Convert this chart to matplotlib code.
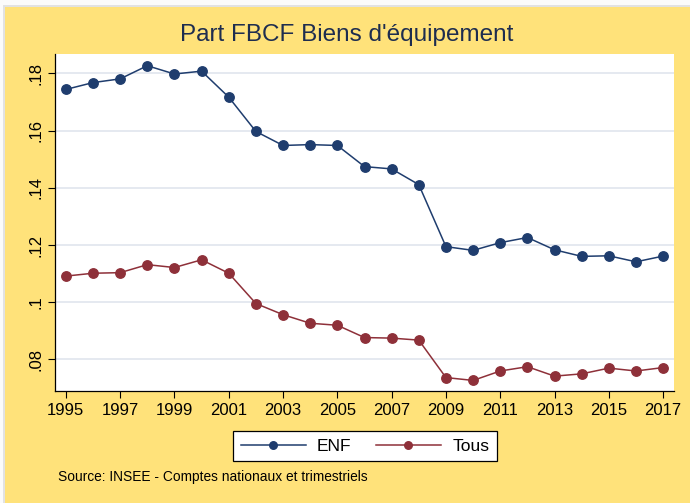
import matplotlib
matplotlib.use("Agg")
import matplotlib.pyplot as plt
from matplotlib.patches import Rectangle

years = list(range(1995, 2018))
enf = [0.1744, 0.1768, 0.1781, 0.1827, 0.1798, 0.1808, 0.1717, 0.1597, 0.1548, 0.1551,
       0.1548, 0.1474, 0.1466, 0.1411, 0.1194, 0.1181, 0.1208, 0.1226, 0.1183, 0.1160,
       0.1162, 0.1141, 0.1161]
tous = [0.1091, 0.1101, 0.1103, 0.1131, 0.1121, 0.1148, 0.1101, 0.0995, 0.0956, 0.0926,
        0.0919, 0.0876, 0.0874, 0.0867, 0.0736, 0.0726, 0.0759, 0.0774, 0.0741, 0.0749,
        0.0769, 0.0759, 0.0771]
yticks = [0.08, 0.10, 0.12, 0.14, 0.16, 0.18]
ytick_labels = [".08", ".1", ".12", ".14", ".16", ".18"]
xticks = list(range(1995, 2018, 2))
title = "Part FBCF Biens d'équipement"
source = "Source: INSEE - Comptes nationaux et trimestriels"

plt.rcParams['font.family'] = ['Liberation Sans', 'DejaVu Sans']

W, H = 690, 503
fig = plt.figure(figsize=(W / 100, H / 100), dpi=100, facecolor="#fbfbfb")
fig.patches.append(Rectangle((3 / W, 0), (W - 3) / W, (H - 5) / H,
                             transform=fig.transFigure, facecolor="#e2e2e2",
                             edgecolor="none", zorder=-11))
fig.patches.append(Rectangle((4.5 / W, 0), (W - 4.5) / W, (H - 6.5) / H,
                             transform=fig.transFigure, facecolor="#ffe27a",
                             edgecolor="none", zorder=-10))

left, right, top, bottom = 55, 674, 54, 391
ax = fig.add_axes([left / W, 1 - bottom / H, (right - left) / W, (bottom - top) / H])
ax.set_facecolor("white")

navy = "#1f3d6e"
maroon = "#8e3039"
ax.plot(years, enf, color=navy, lw=1.1, marker="o", ms=6.8, label="ENF", zorder=3)
ax.plot(years, tous, color=maroon, lw=1.1, marker="o", ms=6.8, label="Tous", zorder=3)

ax.set_xlim(1994.6, 2017.4)
ax.set_ylim(0.0689, 0.1868)
ax.set_yticks(yticks)
ax.set_yticklabels(ytick_labels, rotation=90, va="center")
ax.set_xticks(xticks)
ax.grid(axis="y", color="#e3e7ef", lw=1.3)
ax.set_axisbelow(True)
for s in ["top", "right"]:
    ax.spines[s].set_visible(False)
for s in ["left", "bottom"]:
    ax.spines[s].set_color("black")
    ax.spines[s].set_linewidth(0.9)
ax.tick_params(axis="both", direction="out", length=5, width=0.8, labelsize=12, colors="black")
ax.tick_params(axis="y", pad=3)

fig.text(0.5 * (W + 4) / W, 1 - 35 / H, title, ha="center", va="center",
         fontsize=17.5, color="#1e2d4f")

leg = fig.legend(loc="center", bbox_to_anchor=(365 / W, 1 - 446 / H), ncol=2,
                 frameon=True, fancybox=False, framealpha=1, fontsize=12.5,
                 markerscale=0.8, handlelength=3.75, columnspacing=1.4,
                 handletextpad=0.65, borderpad=0.45)
leg.get_frame().set_edgecolor("black")
leg.get_frame().set_linewidth(0.9)

fig.text(58 / W, 1 - 477 / H, source, ha="left", va="center", fontsize=9.9, color="black")

fig.savefig("out.png", dpi=100, facecolor=fig.get_facecolor())
